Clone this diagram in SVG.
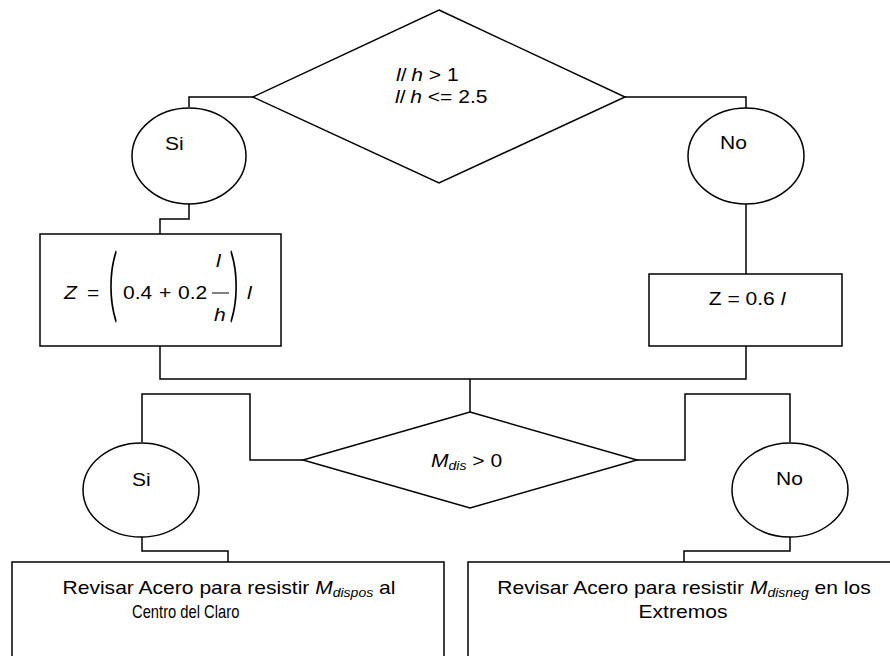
<svg xmlns="http://www.w3.org/2000/svg" width="890" height="656" viewBox="0 0 890 656">
<style>
.s{fill:#fff;stroke:#000;stroke-width:1.5}
.c{fill:none;stroke:#000;stroke-width:1.5}
text{font-family:"Liberation Sans",Arial,sans-serif;font-size:18px;fill:#000}
.i{font-style:italic}
.sub{font-style:italic;font-size:12px}
.p{font-family:Lato,Inter,"Liberation Sans",sans-serif;font-weight:300;font-size:28px}
</style>
<rect width="890" height="656" fill="#fff"/>
<g id="connectors">
<polyline class="c" points="253,97 189,97 189,107"/>
<polyline class="c" points="625,97 746,97 746,108"/>
<polyline class="c" points="189,204 189,219 160,219 160,234"/>
<polyline class="c" points="746,204 746,274"/>
<polyline class="c" points="160,346 160,379 746,379 746,346"/>
<polyline class="c" points="470,379 470,412"/>
<polyline class="c" points="303,460 250,460 250,394 142,394 142,442"/>
<polyline class="c" points="637,460 685,460 685,394 790,394 790,442"/>
<polyline class="c" points="142,537 142,551 228,551 228,562"/>
<polyline class="c" points="790,537 790,551 684,551 684,562"/>
</g>
<g id="dec1">
<polygon class="s" points="439,10 625,97 439,183 253,97"/>
<text transform="translate(396 81) scale(1.17 1)"><tspan class="i">l</tspan>/<tspan class="i" dx="4">h</tspan> &gt; 1</text>
<text transform="translate(395 103) scale(1.17 1)"><tspan class="i">l</tspan>/<tspan class="i" dx="4">h</tspan> &lt;= 2.5</text>
</g>
<g id="si1">
<ellipse class="s" cx="189" cy="156" rx="57" ry="48"/>
<text transform="translate(165 150) scale(1.17 1)">Si</text>
</g>
<g id="no1">
<ellipse class="s" cx="746" cy="156" rx="58" ry="48"/>
<text transform="translate(720 149) scale(1.17 1)">No</text>
</g>
<g id="boxZ1">
<rect class="s" x="40" y="234" width="241" height="112"/>
<text transform="translate(64 299) scale(1.17 1)" class="i">Z</text>
<text transform="translate(87 299) scale(1.17 1)">=</text>
<text class="p" transform="translate(108 311.7) scale(1.4 2.92)">(</text>
<text transform="translate(123 299) scale(1.17 1)">0.4</text>
<text transform="translate(159 299) scale(1.17 1)">+</text>
<text transform="translate(178 299) scale(1.17 1)">0.2</text>
<text transform="translate(216 267) scale(1.17 1)" class="i">l</text>
<line x1="212" y1="293" x2="229" y2="293" stroke="#000" stroke-width="1"/>
<text transform="translate(214 321) scale(1.17 1)" class="i">h</text>
<text class="p" transform="translate(229 311.7) scale(1.4 2.92)">)</text>
<text transform="translate(247 299) scale(1.17 1)" class="i">l</text>
</g>
<g id="boxZ2">
<rect class="s" x="649" y="274" width="193" height="72"/>
<text transform="translate(747 305) scale(1.17 1)" text-anchor="middle">Z = 0.6 <tspan class="i">l</tspan></text>
</g>
<g id="dec2">
<polygon class="s" points="470,412 637,460 470,508 303,460"/>
<text transform="translate(431 467) scale(1.17 1)"><tspan class="i">M</tspan><tspan class="sub" dy="3">dis</tspan><tspan dy="-3"> &gt; 0</tspan></text>
</g>
<g id="si2">
<ellipse class="s" cx="141" cy="490" rx="58" ry="47"/>
<text transform="translate(132 486) scale(1.17 1)">Si</text>
</g>
<g id="no2">
<ellipse class="s" cx="790" cy="490" rx="58" ry="47"/>
<text transform="translate(776 485) scale(1.17 1)">No</text>
</g>
<g id="boxA">
<rect class="s" x="12" y="562" width="432" height="120"/>
<text transform="translate(229 594) scale(1.17 1)" text-anchor="middle">Revisar Acero para resistir <tspan class="i">M</tspan><tspan class="sub" dy="3">dispos</tspan><tspan dy="-3"> al</tspan></text>
<text transform="translate(132 618) scale(0.82 1)">Centro del Claro</text>
</g>
<g id="boxB">
<rect class="s" x="468" y="562" width="440" height="120"/>
<text transform="translate(684 594) scale(1.17 1)" text-anchor="middle">Revisar Acero para resistir <tspan class="i">M</tspan><tspan class="sub" dy="3">disneg</tspan><tspan dy="-3"> en los</tspan></text>
<text transform="translate(683 618) scale(1.17 1)" text-anchor="middle">Extremos</text>
</g>
</svg>
